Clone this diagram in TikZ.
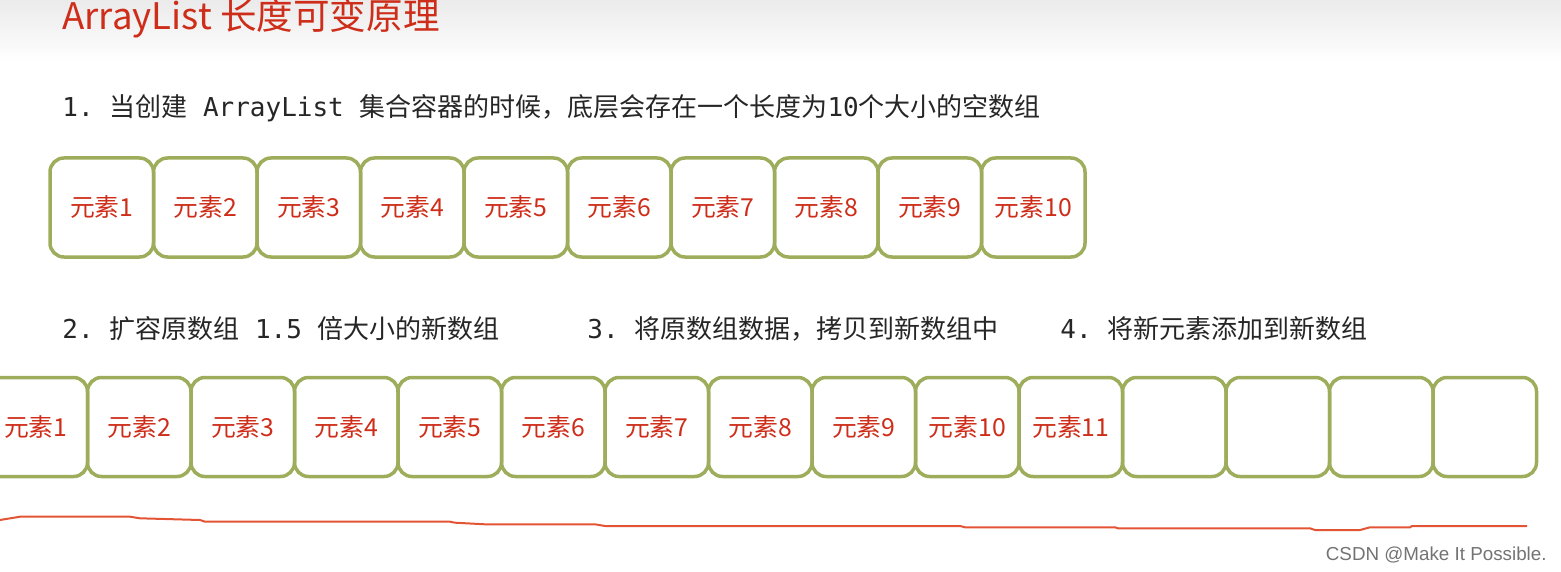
\documentclass[tikz,border=0pt]{standalone}
\usepackage{fontspec}
\setmainfont{Liberation Sans}
\setmonofont{DejaVu Sans Mono}
\newfontfamily\cjk{Noto Sans CJK SC}
\definecolor{cellgreen}{RGB}{157,173,92}
\definecolor{labelred}{RGB}{206,45,25}
\definecolor{linered}{RGB}{226,84,52}
\definecolor{textgray}{RGB}{38,38,38}

\begin{document}
\begin{tikzpicture}[x=0.5pt,y=-0.5pt,
  cell/.style={draw=cellgreen,line width=1.75pt,rounded corners=7pt,minimum width=51.75pt,minimum height=49.5pt,inner sep=0pt,text=labelred,font=\cjk\fontsize{12.4}{14}\selectfont},
  stepline/.style={anchor=west,inner sep=0pt,text=textgray,font=\ttfamily\fontsize{13}{15}\selectfont}]
\useasboundingbox (0,0) rectangle (1561,572);
\clip (0,0) rectangle (1561,572);
\shade[top color=black!8,bottom color=white] (0,0) rectangle (1561,62);
\node[anchor=west,inner sep=0pt,text=labelred,font=\cjk\fontsize{18.3}{21}\selectfont] (title) at (62,18) {ArrayList 长度可变原理};
% step 1
\node[stepline] (step1) at (62,108) {1. {\cjk 当创建} ArrayList {\cjk 集合容器的时候，底层会存在一个长度为}10{\cjk 个大小的空数组}};
\foreach \i in {1,...,10}
  \node[cell] (a\i) at ({50+103.5*(\i-0.5)},207.5) {元素\i};
% steps 2-4
\node[stepline] (step2) at (62,329) {2. {\cjk 扩容原数组} 1.5 {\cjk 倍大小的新数组}};
\node[stepline] (step3) at (587,329) {3. {\cjk 将原数组数据，拷贝到新数组中}};
\node[stepline] (step4) at (1060,329) {4. {\cjk 将新元素添加到新数组}};
\foreach \i in {1,...,15}
  \node[cell] (b\i) at ({-16+103.5*(\i-0.5)},427) {\ifnum\i<12 元素\i\fi};
% underline
\draw[linered,line width=1pt] (0,520) -- (20,516.7) -- (130,516.7) -- (140,518.3) -- (200,520) -- (205,521.7)
  -- (450,521.7) -- (455,522.7) -- (485,524.3) -- (595,524.3) -- (605,526) -- (960,526) -- (965,527.3)
  -- (1115,527.3) -- (1118,528.3) -- (1310,528.3) -- (1315,530) -- (1360,530) -- (1370,527.3)
  -- (1410,527.3) -- (1412,526) -- (1527,526);
\node[anchor=east,inner sep=0pt,text=black!55,font=\fontsize{9.4}{11}\selectfont] (mark) at (1547,555) {CSDN @Make It Possible.};
\end{tikzpicture}
\end{document}
